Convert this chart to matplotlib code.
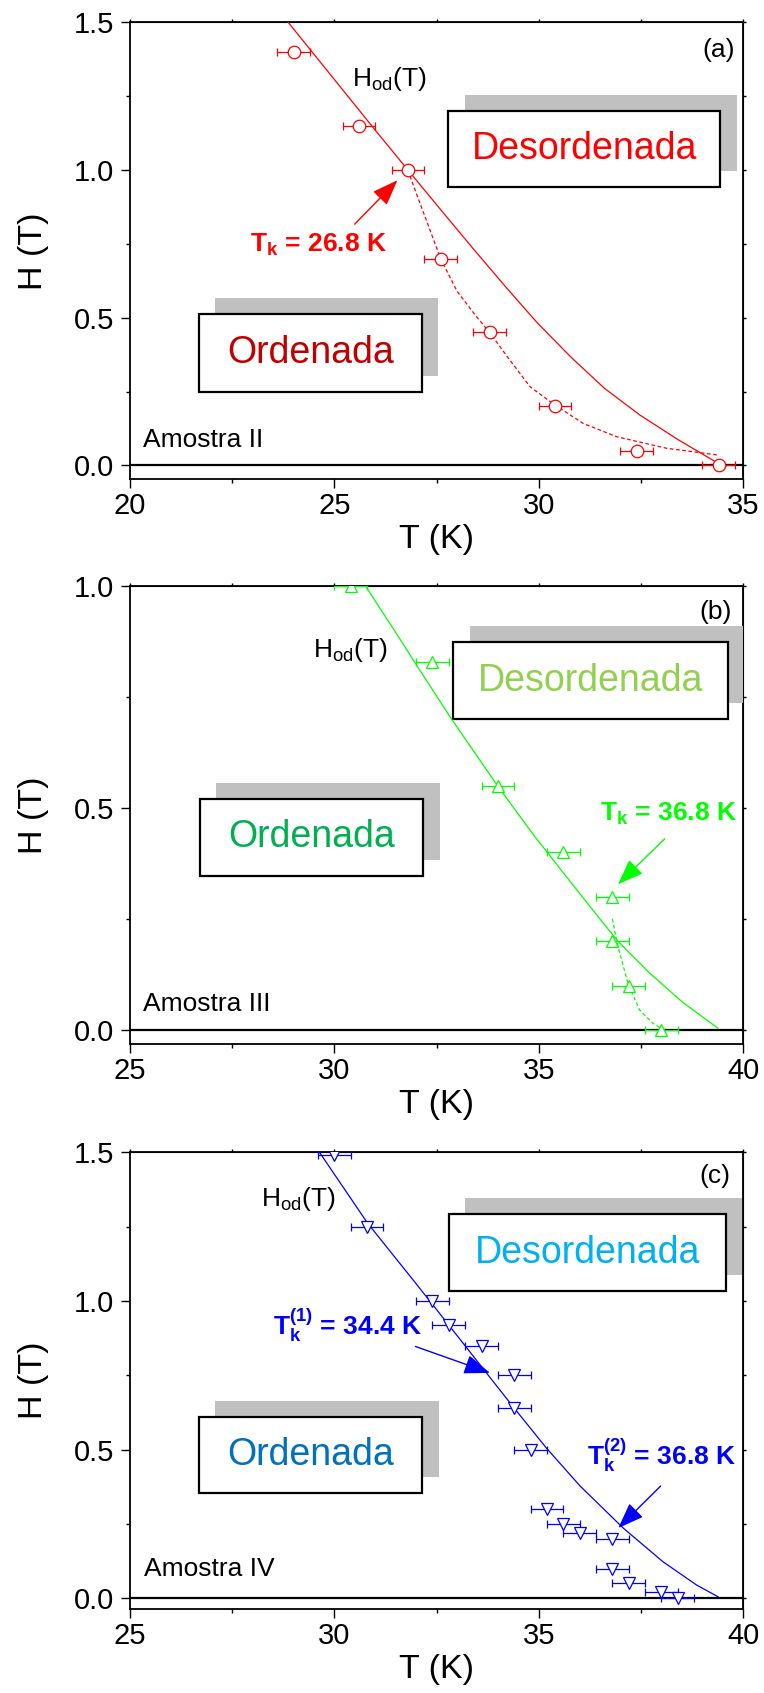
import matplotlib.pyplot as plt
from matplotlib.patches import Rectangle
from matplotlib.ticker import MultipleLocator, NullFormatter

plt.rcParams['font.family'] = ['Liberation Sans', 'DejaVu Sans']
plt.rcParams['mathtext.fontset'] = 'custom'
plt.rcParams['mathtext.rm'] = 'Liberation Sans'
plt.rcParams['mathtext.it'] = 'Liberation Sans:italic'
plt.rcParams['mathtext.bf'] = 'Liberation Sans:bold'

t_err = 0.4  # K, horizontal error bar on every point

# (a) Amostra II
T_a = [24.0, 25.6, 26.8, 27.6, 28.8, 30.4, 32.4, 34.4]
H_a = [1.40, 1.15, 1.00, 0.70, 0.45, 0.20, 0.05, 0.0]
fit_T_a = [23.87, 24.6, 25.3, 26.0, 26.8, 27.6, 28.4, 29.2, 29.95, 30.8, 31.6, 32.48, 33.4, 34.39]
fit_H_a = [1.50, 1.375, 1.255, 1.135, 1.00, 0.866, 0.733, 0.603, 0.485, 0.365, 0.262, 0.170, 0.088, 0.007]
dash_T_a = [26.80, 26.93, 27.25, 27.60, 28.0, 28.48, 28.79, 29.22, 29.79, 30.40, 31.09, 31.91, 33.13, 34.39]
dash_H_a = [1.00, 0.949, 0.83, 0.70, 0.59, 0.503, 0.452, 0.37, 0.266, 0.204, 0.142, 0.097, 0.058, 0.035]

# (b) Amostra III
T_b = [30.4, 32.4, 34.0, 35.6, 36.8, 36.8, 37.2, 38.0]
H_b = [1.00, 0.83, 0.55, 0.40, 0.30, 0.20, 0.10, 0.0]
fit_T_b = [30.75, 31.61, 32.01, 32.87, 33.56, 34.01, 34.87, 35.68, 36.50, 36.94, 37.72, 38.53, 39.39]
fit_H_b = [1.002, 0.880, 0.822, 0.700, 0.608, 0.548, 0.440, 0.345, 0.250, 0.200, 0.128, 0.062, 0.004]
dash_T_b = [36.80, 36.94, 37.19, 37.47, 37.80, 37.99]
dash_H_b = [0.251, 0.188, 0.103, 0.045, 0.015, 0.004]

# (c) Amostra IV
T_c = [30.0, 30.8, 32.4, 32.8, 33.6, 34.4, 34.4, 34.8, 35.2, 35.6, 36.0, 36.8, 36.8, 37.2, 38.0, 38.4]
H_c = [1.49, 1.25, 1.00, 0.92, 0.85, 0.75, 0.64, 0.50, 0.30, 0.25, 0.22, 0.20, 0.10, 0.05, 0.02, 0.0]
fit_T_c = [29.61, 30.81, 31.93, 32.42, 33.24, 33.64, 34.38, 35.19, 36.01, 37.07, 38.04, 38.86, 39.39]
fit_H_c = [1.505, 1.262, 1.070, 0.985, 0.842, 0.772, 0.643, 0.505, 0.378, 0.236, 0.123, 0.045, 0.005]


def style_axes(ax, xlim, ylim):
    ax.set_xlim(xlim)
    ax.set_ylim(ylim)
    ax.xaxis.set_major_locator(MultipleLocator(5))
    ax.xaxis.set_minor_locator(MultipleLocator(2.5))
    ax.yaxis.set_major_locator(MultipleLocator(0.5))
    ax.yaxis.set_minor_locator(MultipleLocator(0.25))
    ax.tick_params(which='major', direction='out', length=6.3, width=1.0, labelsize=21)
    ax.tick_params(which='minor', direction='out', length=3.2, width=1.0)
    ax.tick_params(axis='x', pad=3)
    ax.tick_params(axis='y', pad=5)
    for s in ax.spines.values():
        s.set_linewidth(1.3)
    # short ticks without labels on top and right
    top = ax.secondary_xaxis('top')
    top.xaxis.set_major_locator(MultipleLocator(5))
    top.xaxis.set_minor_locator(MultipleLocator(2.5))
    top.xaxis.set_major_formatter(NullFormatter())
    top.tick_params(which='both', direction='out', length=2.5, width=1.0)
    right = ax.secondary_yaxis('right')
    right.yaxis.set_major_locator(MultipleLocator(0.5))
    right.yaxis.set_minor_locator(MultipleLocator(0.25))
    right.yaxis.set_major_formatter(NullFormatter())
    right.tick_params(which='both', direction='out', length=2.5, width=1.0)
    ax.axhline(0, color='black', lw=1.6, zorder=1.5)
    ax.set_xlabel('T (K)', fontsize=24.5, labelpad=3)
    ax.set_ylabel('H (T)', fontsize=24.5, labelpad=18)


def phase_box(ax, x0, y0, w, h, label, color):
    ax.add_patch(Rectangle((x0 + 0.027, y0 + 0.035), w, h, transform=ax.transAxes,
                           facecolor='#c0c0c0', edgecolor='none', zorder=3))
    ax.add_patch(Rectangle((x0, y0), w, h, transform=ax.transAxes,
                           facecolor='white', edgecolor='black', lw=1.6, zorder=4))
    ax.text(x0 + w / 2, y0 + h / 2, label, transform=ax.transAxes, ha='center', va='center',
            fontsize=27, color=color, zorder=5)


def points(ax, T, H, marker, color):
    ax.errorbar(T, H, xerr=t_err, fmt=marker, ms=9, mfc='white', mec=color, mew=0.9,
                ecolor=color, elinewidth=0.9, capsize=3, capthick=0.9, zorder=6)


def arrow(ax, tail, head, color):
    ax.annotate('', xy=head, xytext=tail,
                arrowprops=dict(arrowstyle='-|>,head_length=0.8,head_width=0.3',
                                color=color, lw=1.0, mutation_scale=20), zorder=7)


fig = plt.figure(figsize=(7.64, 16.93), dpi=100)
ax_a = fig.add_axes([0.1702, 0.7169, 0.8024, 0.2699])
ax_b = fig.add_axes([0.1702, 0.3833, 0.8024, 0.2705])
ax_c = fig.add_axes([0.1702, 0.0496, 0.8024, 0.2698])

# ---- (a) ----
style_axes(ax_a, (20, 35), (-0.047, 1.5))
ax_a.plot(fit_T_a, fit_H_a, color='red', lw=0.9, zorder=5)
ax_a.plot(dash_T_a, dash_H_a, color='red', lw=0.9, ls=(0, (3, 2)), zorder=5)
points(ax_a, T_a, H_a, 'o', 'red')
phase_box(ax_a, 0.519, 0.640, 0.444, 0.167, 'Desordenada', '#ff0000')
phase_box(ax_a, 0.112, 0.192, 0.364, 0.169, 'Ordenada', '#c00000')
ax_a.text(25.42, 1.285, r'H$_{\rm od}$(T)', fontsize=19)
ax_a.text(22.94, 0.723, r'$\mathbf{T_k}$ = 26.8 K', fontsize=19, fontweight='bold', color='red')
arrow(ax_a, (25.45, 0.81), (26.59, 0.972), 'red')
ax_a.text(0.0207, 0.0713, 'Amostra II', transform=ax_a.transAxes, fontsize=19)
ax_a.text(0.987, 0.939, '(a)', transform=ax_a.transAxes, fontsize=19, ha='right', va='center')

# ---- (b) ----
style_axes(ax_b, (25, 40), (-0.0315, 1.0))
ax_b.plot(fit_T_b, fit_H_b, color='#00ff00', lw=0.9, zorder=5)
ax_b.plot(dash_T_b, dash_H_b, color='#00ff00', lw=0.9, ls=(0, (3, 2)), zorder=5)
points(ax_b, T_b, H_b, '^', '#00ff00')
phase_box(ax_b, 0.527, 0.709, 0.448, 0.169, 'Desordenada', '#92d050')
phase_box(ax_b, 0.114, 0.368, 0.364, 0.168, 'Ordenada', '#00b050')
ax_b.text(29.47, 0.841, r'H$_{\rm od}$(T)', fontsize=19)
ax_b.text(36.50, 0.471, r'$\mathbf{T_k}$ = 36.8 K', fontsize=19, fontweight='bold', color='#00ff00')
arrow(ax_b, (38.13, 0.435), (36.89, 0.324), '#00ff00')
ax_b.text(0.021, 0.0727, 'Amostra III', transform=ax_b.transAxes, fontsize=19)
ax_b.text(0.981, 0.944, '(b)', transform=ax_b.transAxes, fontsize=19, ha='right', va='center')

# ---- (c) ----
style_axes(ax_c, (25, 40), (-0.036, 1.5))
ax_c.plot(fit_T_c, fit_H_c, color='blue', lw=0.9, zorder=5)
points(ax_c, T_c, H_c, 'v', 'blue')
phase_box(ax_c, 0.520, 0.696, 0.452, 0.168, 'Desordenada', '#00b0f0')
phase_box(ax_c, 0.112, 0.253, 0.365, 0.168, 'Ordenada', '#0070c0')
ax_c.text(28.21, 1.319, r'H$_{\rm od}$(T)', fontsize=19)
ax_c.text(28.50, 0.887, r'$\mathbf{T_k^{(1)}}$ = 34.4 K', fontsize=19, fontweight='bold', color='blue')
arrow(ax_c, (31.92, 0.850), (33.87, 0.755), 'blue')
ax_c.text(36.17, 0.447, r'$\mathbf{T_k^{(2)}}$ = 36.8 K', fontsize=19, fontweight='bold', color='blue')
arrow(ax_c, (38.03, 0.384), (36.90, 0.230), 'blue')
ax_c.text(0.0222, 0.0718, 'Amostra IV', transform=ax_c.transAxes, fontsize=19)
ax_c.text(0.980, 0.947, '(c)', transform=ax_c.transAxes, fontsize=19, ha='right', va='center')

fig.savefig('out.png', dpi=100)
